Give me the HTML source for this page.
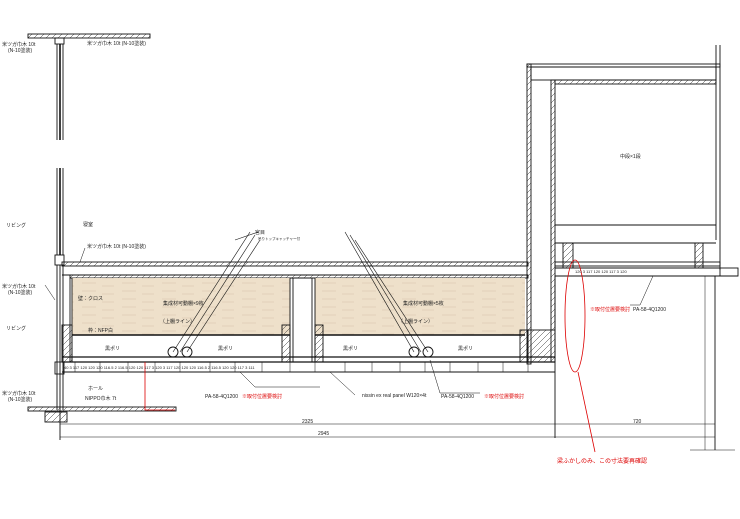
<!DOCTYPE html>
<html><head><meta charset="utf-8"><style>
html,body{margin:0;padding:0;background:#fff}
svg{display:block}
text{font-family:"Liberation Sans","Noto Sans CJK JP",sans-serif;font-size:5px;fill:#222}
.r{fill:#d00}
</style></head><body>
<svg width="740" height="519" viewBox="0 0 740 519" xmlns="http://www.w3.org/2000/svg">
<defs>
<pattern id="h" width="6" height="6" patternUnits="userSpaceOnUse"><path d="M0 6 L6 0" stroke="#333" stroke-width="0.5"/></pattern>
<pattern id="w" width="40" height="8" patternUnits="userSpaceOnUse"><rect width="40" height="8" fill="#eee0ca"/><path d="M2 3 h14 M22 6 h12" stroke="#d4c3a8" stroke-width="0.6"/></pattern>
</defs>
<g fill="none" stroke="#111" stroke-width="0.9">
<rect x="28" y="34" width="122" height="4" fill="url(#h)"/>
<rect x="55" y="38" width="9" height="6"/>
<line x1="57" y1="44" x2="57" y2="140"/><line x1="60" y1="44" x2="60" y2="140" stroke-width="1.6"/><line x1="63" y1="44" x2="63" y2="140"/>
<line x1="57" y1="168" x2="57" y2="255"/><line x1="60" y1="168" x2="60" y2="255" stroke-width="1.6"/><line x1="63" y1="168" x2="63" y2="255"/>
<rect x="55" y="255" width="9" height="10"/>
<line x1="57" y1="265" x2="57" y2="410"/><line x1="60" y1="265" x2="60" y2="440"/><line x1="63" y1="265" x2="63" y2="410"/>
<rect x="55" y="362" width="9" height="12"/>
<rect x="62" y="262" width="466" height="4" fill="url(#h)"/>
<line x1="62" y1="275" x2="528" y2="275"/>
<rect x="70" y="275" width="458" height="3" fill="url(#h)"/>
<rect x="72" y="278" width="218" height="57" fill="url(#w)" stroke="none"/>
<rect x="315" y="278" width="210" height="57" fill="url(#w)" stroke="none"/>
<line x1="72" y1="335" x2="290" y2="335" stroke-width="1.4"/>
<line x1="315" y1="335" x2="525" y2="335" stroke-width="1.4"/>
<line x1="70" y1="278" x2="70" y2="362"/><line x1="72" y1="278" x2="72" y2="362"/>
<rect x="290" y="278" width="25" height="84"/>
<line x1="293" y1="278" x2="293" y2="362"/><line x1="312" y1="278" x2="312" y2="362"/>
<rect x="62" y="325" width="10" height="37" fill="url(#h)"/>
<rect x="282" y="325" width="8" height="37" fill="url(#h)"/>
<rect x="315" y="325" width="8" height="37" fill="url(#h)"/>
<rect x="520" y="330" width="8" height="32" fill="url(#h)"/>
<line x1="62" y1="357" x2="555" y2="357" stroke-width="1.2"/>
<line x1="62" y1="362" x2="555" y2="362" stroke-width="1.2"/>
<line x1="62" y1="372" x2="555" y2="372"/>
<g stroke-width="0.5">
<line x1="75" y1="362" x2="75" y2="372"/><line x1="100" y1="362" x2="100" y2="372"/><line x1="128" y1="362" x2="128" y2="372"/><line x1="155" y1="362" x2="155" y2="372"/><line x1="180" y1="362" x2="180" y2="372"/><line x1="210" y1="362" x2="210" y2="372"/><line x1="235" y1="362" x2="235" y2="372"/><line x1="262" y1="362" x2="262" y2="372"/><line x1="290" y1="362" x2="290" y2="372"/><line x1="315" y1="362" x2="315" y2="372"/><line x1="345" y1="362" x2="345" y2="372"/><line x1="372" y1="362" x2="372" y2="372"/><line x1="400" y1="362" x2="400" y2="372"/><line x1="425" y1="362" x2="425" y2="372"/><line x1="450" y1="362" x2="450" y2="372"/><line x1="478" y1="362" x2="478" y2="372"/><line x1="503" y1="362" x2="503" y2="372"/><line x1="528" y1="362" x2="528" y2="372"/>
</g>
<circle cx="173" cy="352" r="5"/><circle cx="187" cy="352" r="5"/>
<circle cx="414" cy="352" r="5"/><circle cx="428" cy="352" r="5"/>
<g stroke-width="0.6">
<line x1="173" y1="352" x2="250" y2="232"/><line x1="180" y1="352" x2="255" y2="235"/><line x1="187" y1="352" x2="260" y2="240"/>
<line x1="414" y1="352" x2="345" y2="232"/><line x1="421" y1="352" x2="350" y2="235"/><line x1="428" y1="352" x2="355" y2="240"/>
<line x1="235" y1="240" x2="258" y2="232"/>
</g>
<rect x="527" y="64" width="193" height="3" />
<line x1="716" y1="45" x2="716" y2="240"/><line x1="720" y1="45" x2="720" y2="270"/>
<rect x="527" y="64" width="4" height="300" fill="url(#h)"/>
<rect x="551" y="80" width="4" height="282" fill="url(#h)"/>
<rect x="531" y="67" width="185" height="13"/>
<rect x="555" y="80" width="161" height="4" fill="url(#h)"/>
<line x1="555" y1="225" x2="716" y2="225"/>
<line x1="555" y1="243" x2="716" y2="243"/>
<rect x="528" y="330" width="27" height="32" fill="url(#h)"/>
<rect x="555" y="262" width="165" height="4"/>
<line x1="555" y1="268" x2="720" y2="268"/><line x1="555" y1="276" x2="738" y2="276"/>
<rect x="720" y="268" width="18" height="8"/>
<rect x="563" y="243" width="10" height="25" fill="url(#h)"/>
<rect x="695" y="243" width="8" height="25" fill="url(#h)"/>
<line x1="555" y1="276" x2="555" y2="438"/>
<line x1="715" y1="276" x2="715" y2="450"/>
<rect x="28" y="407" width="148" height="4" fill="url(#h)"/>
<rect x="45" y="412" width="22" height="10" fill="url(#h)"/>
<line x1="60" y1="424" x2="555" y2="424" stroke-width="0.6"/>
<line x1="555" y1="424" x2="715" y2="424" stroke-width="0.6"/>
<line x1="60" y1="437" x2="715" y2="437" stroke-width="0.6"/>
<line x1="705" y1="276" x2="705" y2="450" stroke-width="0.5"/>
<line x1="690" y1="450" x2="735" y2="450" stroke-width="0.5"/>
<g stroke-width="0.5">
<path d="M255 387 L240 372"/><path d="M255 387 L320 387"/>
<path d="M430 360 L440 393 L480 393"/>
<path d="M330 372 L355 395"/>
<path d="M653 276 L640 305 L630 305"/>
<path d="M85 248 L80 262"/><path d="M45 285 L55 300"/>
</g>
</g>
<g stroke="#d00" fill="none" stroke-width="0.8">
<path d="M145 362 V410 H175"/>
<ellipse cx="575" cy="316" rx="10" ry="56"/>
<line x1="578" y1="372" x2="595" y2="452"/>
</g>
<text x="2" y="46">米ツガ巾木 10t</text><text x="8" y="52">(N-10塗装)</text>
<text x="87" y="45">米ツガ巾木 10t (N-10塗装)</text>
<text x="6" y="227">リビング</text><text x="83" y="226">寝室</text>
<text x="87" y="248">米ツガ巾木 10t (N-10塗装)</text>
<text x="255" y="234">宮目</text>
<text x="258" y="240" style="font-size:3.5px">吊りトップキャッチャー付</text>
<text x="2" y="288">米ツガ巾木 10t</text><text x="8" y="294">(N-10塗装)</text>
<text x="78" y="300">壁：クロス</text>
<text x="163" y="305">集成材可動棚×9枚</text>
<text x="403" y="305">集成材可動棚×5枚</text>
<text x="160" y="323">（上棚ライン）</text>
<text x="398" y="323">（上棚ライン）</text>
<text x="88" y="332">枠：NFP白</text>
<text x="6" y="330">リビング</text>
<text x="105" y="350">黒ポリ</text><text x="218" y="350">黒ポリ</text><text x="343" y="350">黒ポリ</text><text x="458" y="350">黒ポリ</text>
<text x="64" y="369" style="font-size:4px">40 3 117 120 120 120 116.5 2 116.5 120 120 117 3 120 3 117 120 120 120 116.5 2 116.5 120 120 117 3 111</text>
<text x="88" y="390">ホール</text><text x="85" y="400">NIPPO巾木 7t</text>
<text x="2" y="395">米ツガ巾木 10t</text><text x="8" y="401">(N-10塗装)</text>
<text x="205" y="398">PA-58-4Q1200</text><text class="r" x="242" y="398">※取付位置要検討</text>
<text x="362" y="397">nissin ex real panel W120×4t</text>
<text x="441" y="398">PA-58-4Q1200</text><text class="r" x="484" y="398">※取付位置要検討</text>
<text x="302" y="423">2325</text><text x="318" y="435">2945</text><text x="633" y="423">720</text>
<text x="620" y="158">中段×1段</text>
<text x="575" y="273" style="font-size:4px">120  3 117  120  120  117 3  120</text>
<text class="r" x="590" y="311">※取付位置要検討</text><text x="633" y="311">PA-58-4Q1200</text>
<text class="r" x="557" y="463" style="font-size:6px">梁ふかしのみ、この寸法要再確認</text>
</svg>
</body></html>
